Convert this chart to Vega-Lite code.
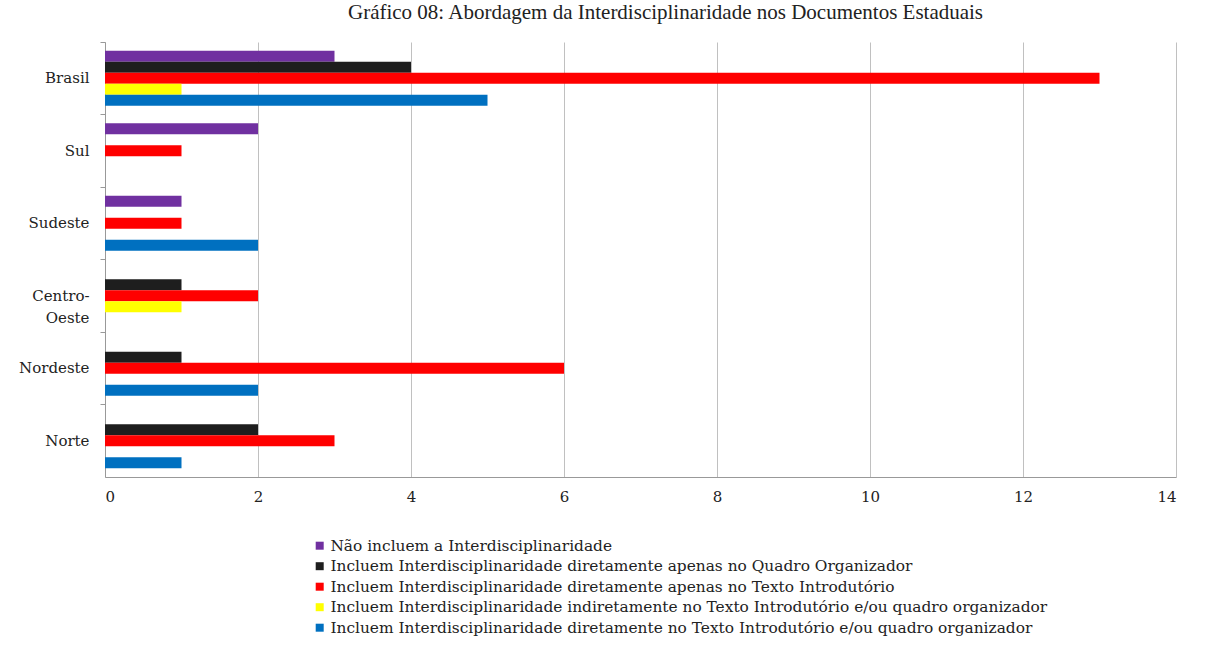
{
  "$schema": "https://vega.github.io/schema/vega-lite/v6.json",
  "autosize": "none",
  "width": 1071,
  "height": 435,
  "padding": {"left": 105, "top": 42, "right": 33, "bottom": 179},
  "background": "white",
  "title": {
    "text": "Gráfico 08: Abordagem da Interdisciplinaridade nos Documentos Estaduais",
    "font": "Liberation Serif",
    "fontSize": 21,
    "fontWeight": "normal",
    "color": "#222222",
    "anchor": "middle",
    "offset": 19,
    "dx": 25
  },
  "data": {
    "values": [
      {"regiao": "Brasil", "serie": "Não incluem a Interdisciplinaridade", "valor": 3},
      {"regiao": "Brasil", "serie": "Incluem Interdisciplinaridade diretamente apenas no Quadro Organizador", "valor": 4},
      {"regiao": "Brasil", "serie": "Incluem Interdisciplinaridade diretamente apenas no Texto Introdutório", "valor": 13},
      {"regiao": "Brasil", "serie": "Incluem Interdisciplinaridade indiretamente no Texto Introdutório e/ou quadro organizador", "valor": 1},
      {"regiao": "Brasil", "serie": "Incluem Interdisciplinaridade diretamente no Texto Introdutório e/ou quadro organizador", "valor": 5},
      {"regiao": "Sul", "serie": "Não incluem a Interdisciplinaridade", "valor": 2},
      {"regiao": "Sul", "serie": "Incluem Interdisciplinaridade diretamente apenas no Texto Introdutório", "valor": 1},
      {"regiao": "Sudeste", "serie": "Não incluem a Interdisciplinaridade", "valor": 1},
      {"regiao": "Sudeste", "serie": "Incluem Interdisciplinaridade diretamente apenas no Texto Introdutório", "valor": 1},
      {"regiao": "Sudeste", "serie": "Incluem Interdisciplinaridade diretamente no Texto Introdutório e/ou quadro organizador", "valor": 2},
      {"regiao": "Centro-Oeste", "serie": "Incluem Interdisciplinaridade diretamente apenas no Quadro Organizador", "valor": 1},
      {"regiao": "Centro-Oeste", "serie": "Incluem Interdisciplinaridade diretamente apenas no Texto Introdutório", "valor": 2},
      {"regiao": "Centro-Oeste", "serie": "Incluem Interdisciplinaridade indiretamente no Texto Introdutório e/ou quadro organizador", "valor": 1},
      {"regiao": "Nordeste", "serie": "Incluem Interdisciplinaridade diretamente apenas no Quadro Organizador", "valor": 1},
      {"regiao": "Nordeste", "serie": "Incluem Interdisciplinaridade diretamente apenas no Texto Introdutório", "valor": 6},
      {"regiao": "Nordeste", "serie": "Incluem Interdisciplinaridade diretamente no Texto Introdutório e/ou quadro organizador", "valor": 2},
      {"regiao": "Norte", "serie": "Incluem Interdisciplinaridade diretamente apenas no Quadro Organizador", "valor": 2},
      {"regiao": "Norte", "serie": "Incluem Interdisciplinaridade diretamente apenas no Texto Introdutório", "valor": 3},
      {"regiao": "Norte", "serie": "Incluem Interdisciplinaridade diretamente no Texto Introdutório e/ou quadro organizador", "valor": 1}
    ]
  },
  "mark": {"type": "bar"},
  "encoding": {
    "y": {
      "field": "regiao",
      "type": "nominal",
      "sort": ["Brasil", "Sul", "Sudeste", "Centro-Oeste", "Nordeste", "Norte"],
      "scale": {"paddingInner": 0, "paddingOuter": 0},
      "axis": {
        "title": null,
        "bandPosition": 0,
        "labelExpr": "datum.value == 'Centro-Oeste' ? ['Centro-', 'Oeste'] : datum.value",
        "labelFont": "DejaVu Serif",
        "labelFontSize": 15,
        "labelPadding": 11,
        "labelLineHeight": 22,
        "tickSize": 5,
        "tickColor": "#999999",
        "domainColor": "#999999",
        "grid": false
      }
    },
    "yOffset": {
      "field": "serie",
      "type": "nominal",
      "sort": [
        "Não incluem a Interdisciplinaridade",
        "Incluem Interdisciplinaridade diretamente apenas no Quadro Organizador",
        "Incluem Interdisciplinaridade diretamente apenas no Texto Introdutório",
        "Incluem Interdisciplinaridade indiretamente no Texto Introdutório e/ou quadro organizador",
        "Incluem Interdisciplinaridade diretamente no Texto Introdutório e/ou quadro organizador"
      ],
      "scale": {"paddingInner": 0, "paddingOuter": 0.795}
    },
    "x": {
      "field": "valor",
      "type": "quantitative",
      "scale": {"domain": [0, 14], "nice": false},
      "axis": {
        "title": null,
        "values": [0, 2, 4, 6, 8, 10, 12, 14],
        "labelFont": "DejaVu Serif",
        "labelFontSize": 15,
        "labelPadding": 12,
        "ticks": false,
        "domainColor": "#999999",
        "gridColor": "#c0c0c0",
        "gridWidth": 1
      }
    },
    "color": {
      "field": "serie",
      "type": "nominal",
      "sort": [
        "Não incluem a Interdisciplinaridade",
        "Incluem Interdisciplinaridade diretamente apenas no Quadro Organizador",
        "Incluem Interdisciplinaridade diretamente apenas no Texto Introdutório",
        "Incluem Interdisciplinaridade indiretamente no Texto Introdutório e/ou quadro organizador",
        "Incluem Interdisciplinaridade diretamente no Texto Introdutório e/ou quadro organizador"
      ],
      "scale": {"range": ["#7030A0", "#1e1e1e", "#FF0000", "#FFFF00", "#0070C0"]},
      "legend": {
        "title": null,
        "orient": "none",
        "legendX": 207,
        "legendY": 496,
        "direction": "vertical",
        "symbolType": "square",
        "symbolSize": 64,
        "symbolStrokeWidth": 0,
        "labelFont": "DejaVu Serif",
        "labelFontSize": 15.4,
        "labelLimit": 900,
        "labelOffset": 3,
        "rowPadding": 3.5
      }
    }
  },
  "config": {
    "view": {"stroke": null},
    "axis": {"labelColor": "#222222"},
    "legend": {"labelColor": "#222222"}
  }
}
